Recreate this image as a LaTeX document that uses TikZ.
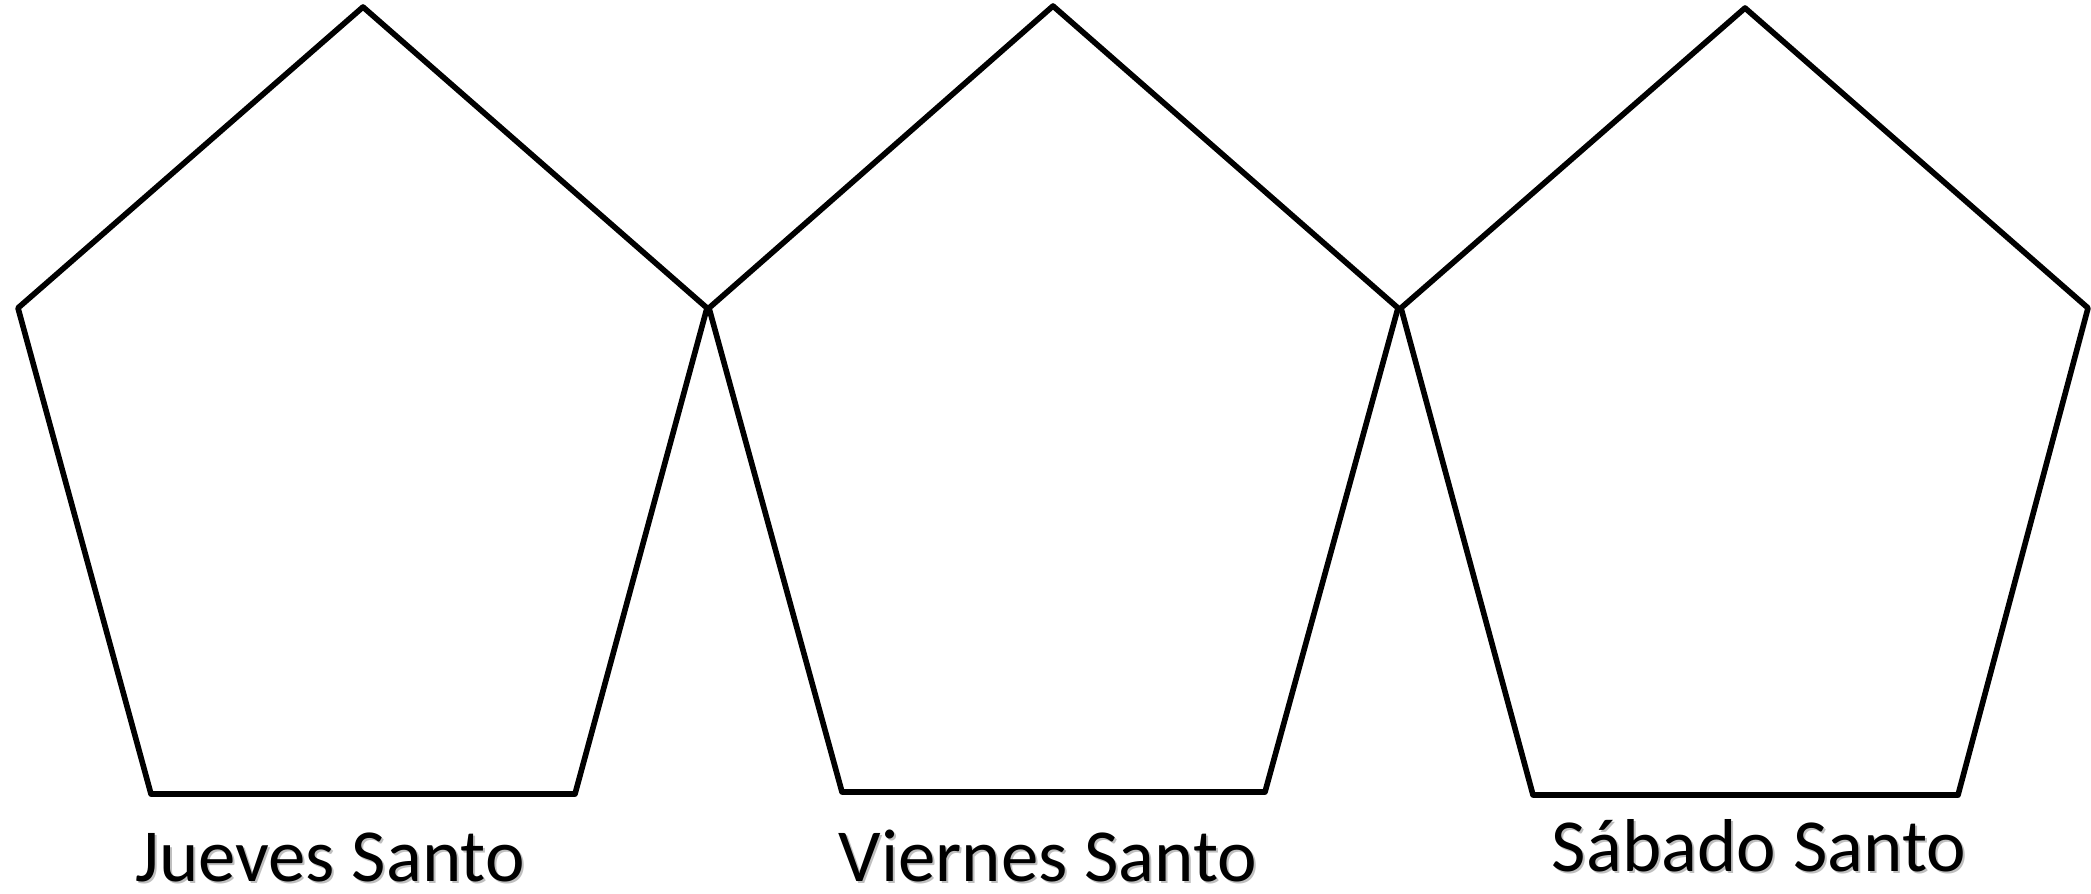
\documentclass[tikz,border=0pt]{standalone}
\usepackage{fontspec}
\setmainfont{Carlito}

\begin{document}
\begin{tikzpicture}[x=0.01cm,y=-0.01cm,
    pent/.style={line width=1.6pt, line join=round},
    dayname/.style={anchor=base, inner sep=0pt, font=\fontsize{21.3}{25}\selectfont},
    dayshadow/.style={dayname, text=black!25}]

    \useasboundingbox (0,0) rectangle (2091,893);

    % First pentagon
    \draw[pent] (18,308) -- (363,7) -- (707,308) -- (575,794) -- (151,794) -- cycle;

    % Second pentagon
    \draw[pent] (709,308) -- (1053,6) -- (1398,308) -- (1265,792) -- (842,792) -- cycle;

    % Third pentagon
    \draw[pent] (1401,308) -- (1745,8) -- (2088,308) -- (1958,795) -- (1533,795) -- cycle;

    % Labels
    \node[dayshadow] at (332,883) {Jueves Santo};
    \node[dayname] (jueves) at (330,881) {Jueves Santo};

    \node[dayshadow] at (1050,883) {Viernes Santo};
    \node[dayname] (viernes) at (1048,881) {Viernes Santo};

    \node[dayshadow] at (1761,873) {Sábado Santo};
    \node[dayname] (sabado) at (1759,871) {Sábado Santo};

\end{tikzpicture}
\end{document}
